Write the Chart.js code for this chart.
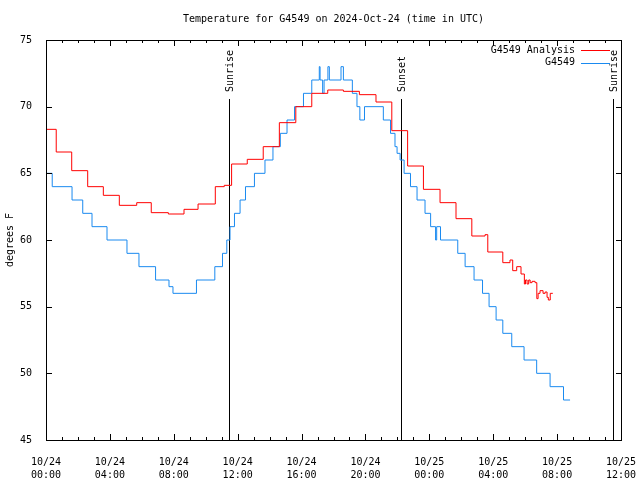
<!DOCTYPE html>
<html>
<head>
<meta charset="utf-8">
<script src="https://cdn.jsdelivr.net/npm/chart.js@4"></script>
<style>
  html, body { margin: 0; padding: 0; background: #fff; }
  canvas { display: block; }
</style>
</head>
<body>
<canvas id="tempChart" width="640" height="480"></canvas>
<script>
// hours since 10/24 00:00 UTC, value takes effect at that hour
const analysisHours = [0, 0.64, 1.61, 2.61, 3.59, 4.59, 5.68, 6.59, 7.66, 8.64, 9.52, 10.6, 11.16, 11.62, 12.6, 13.6, 14.61, 15.64, 16.64, 17.64, 18.62, 19.62, 20.66, 21.65, 22.64, 23.63, 24.67, 25.67, 26.66, 27.49, 27.66, 28.6, 29.05, 29.22, 29.47, 29.74, 29.95, 30.02, 30.12, 30.22, 30.31, 30.43, 30.62, 30.73, 30.81, 30.93, 31.12, 31.25, 31.37, 31.45, 31.57, 31.73];
const analysisTemps = [68.3, 66.6, 65.2, 64.0, 63.35, 62.6, 62.8, 62.05, 61.95, 62.3, 62.7, 64.0, 64.1, 65.7, 66.05, 67.0, 68.8, 70.0, 71.0, 71.25, 71.15, 70.9, 70.35, 68.2, 65.55, 63.8, 62.8, 61.6, 60.3, 60.4, 59.1, 58.3, 58.5, 57.7, 58.0, 57.45, 56.7, 57.0, 56.7, 57.0, 56.8, 56.9, 56.8, 55.6, 56.0, 56.2, 56.0, 56.1, 55.7, 55.5, 56.0, 56.0];

const stationHours = [0, 0.03, 0.39, 1.63, 2.3, 2.88, 3.82, 5.07, 5.82, 6.86, 7.7, 7.95, 9.42, 10.57, 11.05, 11.32, 11.52, 11.8, 12.15, 12.49, 13.05, 13.71, 14.21, 14.67, 15.09, 15.56, 16.12, 16.64, 17.11, 17.16, 17.32, 17.41, 17.65, 17.74, 18.47, 18.62, 19.18, 19.47, 19.65, 19.94, 21.12, 21.57, 21.85, 21.98, 22.17, 22.42, 22.82, 23.23, 23.73, 24.08, 24.39, 24.46, 24.7, 25.78, 26.24, 26.8, 27.33, 27.74, 28.18, 28.6, 29.16, 29.93, 30.72, 31.56, 32.4, 32.81];
const stationTemps = [65.5, 65, 64, 63, 62, 61, 60, 59, 58, 57, 56.5, 56, 57, 58, 59, 60, 61, 62, 63, 64, 65, 66, 67, 68, 69, 70, 71, 72, 73, 72, 71, 72, 73, 72, 73, 72, 71, 70, 69, 70, 69, 68, 67, 66.5, 66, 65, 64, 63, 62, 61, 60, 61, 60, 59, 58, 57, 56, 55, 54, 53, 52, 51, 50, 49, 48, 48];

const xTickLabels = [
  ["10/24", "00:00"], ["10/24", "04:00"], ["10/24", "08:00"], ["10/24", "12:00"],
  ["10/24", "16:00"], ["10/24", "20:00"], ["10/25", "00:00"], ["10/25", "04:00"],
  ["10/25", "08:00"], ["10/25", "12:00"]
];

const sunEvents = ["Sunrise", "Sunset", "Sunrise"];
const sunHours = [11.48, 22.25, 35.49];

const monoFont = "'DejaVu Sans Mono', 'Liberation Mono', monospace";

function toPoints(hours, temps) {
  return hours.map((h, i) => ({ x: h, y: temps[i] }));
}

// border box plus inward ticks on all four sides (gnuplot style)
const frame = {
  id: "frame",
  beforeDatasetsDraw(chart) {
    const { ctx, chartArea: a, scales: { x } } = chart;
    ctx.save();
    ctx.strokeStyle = "#000";
    ctx.lineWidth = 1;
    ctx.fillStyle = "#000";
    ctx.font = "10px " + monoFont;
    ctx.textAlign = "left";
    ctx.textBaseline = "middle";
    sunHours.forEach((h, i) => {
      const px = Math.round(x.getPixelForValue(h)) + 0.5;
      ctx.beginPath();
      ctx.moveTo(px, 99);
      ctx.lineTo(px, a.bottom);
      ctx.stroke();
      ctx.save();
      ctx.translate(px + 1, 92);
      ctx.rotate(-Math.PI / 2);
      ctx.fillText(sunEvents[i], 0, 0);
      ctx.restore();
    });
    ctx.restore();
  },
  afterDraw(chart) {
    const { ctx, chartArea: a, scales: { x, y } } = chart;
    ctx.save();
    ctx.strokeStyle = "#000";
    ctx.lineWidth = 1;
    ctx.beginPath();
    ctx.rect(a.left + 0.5, a.top + 0.5, a.right - a.left, a.bottom - a.top);
    for (let h = 0; h <= 36; h++) {
      const px = Math.round(x.getPixelForValue(h)) + 0.5;
      const len = h % 4 === 0 ? 6 : 3;
      ctx.moveTo(px, a.bottom);
      ctx.lineTo(px, a.bottom - len);
      ctx.moveTo(px, a.top);
      ctx.lineTo(px, a.top + len);
    }
    for (let t = 45; t <= 75; t += 5) {
      const py = Math.round(y.getPixelForValue(t)) + 0.5;
      ctx.moveTo(a.left, py);
      ctx.lineTo(a.left + 6, py);
      ctx.moveTo(a.right + 1, py);
      ctx.lineTo(a.right + 1 - 6, py);
    }
    ctx.stroke();

    // key, top right inside the plot
    ctx.font = "10px " + monoFont;
    ctx.textAlign = "right";
    ctx.textBaseline = "middle";
    ctx.fillStyle = "#000";
    chart.data.datasets.forEach((ds, i) => {
      const ky = 50 + i * 12.5;
      ctx.fillText(ds.label, 575, ky);
      ctx.beginPath();
      ctx.strokeStyle = ds.borderColor;
      ctx.moveTo(581, Math.round(ky) + 0.5);
      ctx.lineTo(610, Math.round(ky) + 0.5);
      ctx.stroke();
    });
    ctx.restore();
  }
};

new Chart(document.getElementById("tempChart"), {
  type: "line",
  data: {
    datasets: [
      {
        label: "G4549 Analysis",
        data: toPoints(analysisHours, analysisTemps),
        borderColor: "#ff0000",
        borderWidth: 1,
        stepped: true,
        pointRadius: 0,
        fill: false
      },
      {
        label: "G4549",
        data: toPoints(stationHours, stationTemps),
        borderColor: "#1a8af0",
        borderWidth: 1,
        stepped: true,
        pointRadius: 0,
        fill: false
      }
    ]
  },
  options: {
    responsive: false,
    animation: false,
    layout: { padding: { left: 0, right: 19, top: 0, bottom: 0 } },
    plugins: {
      legend: { display: false },
      tooltip: { enabled: false },
      title: {
        display: true,
        fullSize: false,
        text: "Temperature for G4549 on 2024-Oct-24 (time in UTC)",
        color: "#000",
        font: { family: monoFont, size: 10, weight: "normal" },
        padding: { top: 13, bottom: 15 }
      }
    },
    scales: {
      x: {
        type: "linear",
        min: 0,
        max: 36,
        grid: { display: false },
        border: { display: false },
        ticks: {
          stepSize: 4,
          autoSkip: false,
          maxRotation: 0,
          padding: 7.5,
          color: "#000",
          font: { family: monoFont, size: 10, lineHeight: 1.3 },
          callback: (v) => xTickLabels[v / 4]
        },
        afterFit: (s) => {
          s.height = 40;
          s.paddingLeft = 0;
          s.paddingRight = 0;
        }
      },
      y: {
        min: 45,
        max: 75,
        grid: { display: false },
        border: { display: false },
        ticks: {
          stepSize: 5,
          padding: 6,
          color: "#000",
          font: { family: monoFont, size: 10 }
        },
        title: {
          display: true,
          text: "degrees F",
          color: "#000",
          font: { family: monoFont, size: 10 },
          padding: { top: 4, bottom: 0 }
        },
        afterFit: (s) => { s.width = 46; }
      }
    }
  },
  plugins: [frame]
});
</script>
</body>
</html>
